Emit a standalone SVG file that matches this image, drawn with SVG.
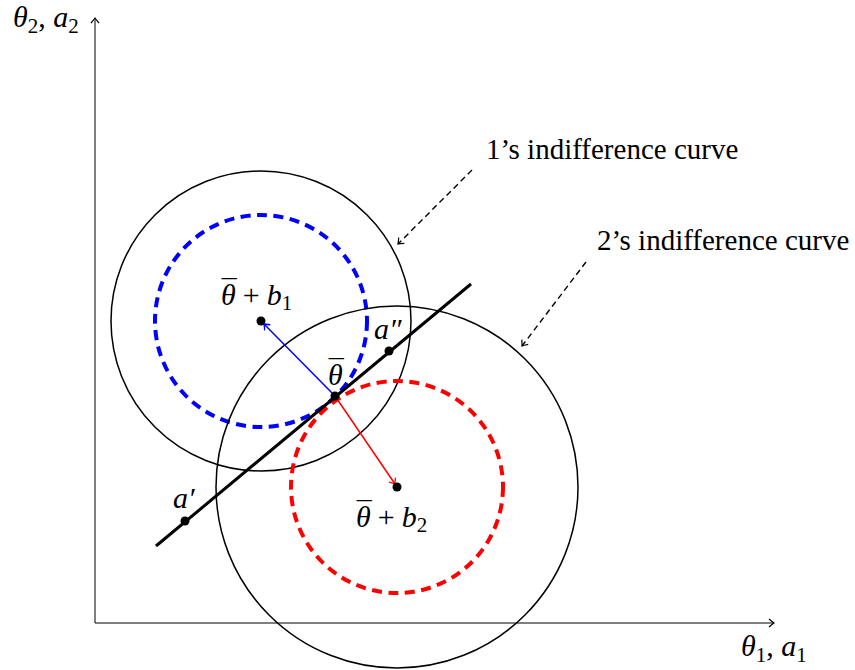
<svg xmlns="http://www.w3.org/2000/svg" width="855" height="670" viewBox="0 0 855 670">
<defs>
<marker id="toK" markerWidth="12" markerHeight="12" refX="0" refY="0" viewBox="-6 -6 12 12" orient="auto" markerUnits="userSpaceOnUse">
<path d="M-5,-4 Q-1.5,-1 0,0 Q-1.5,1 -5,4" fill="none" stroke="#000" stroke-width="1.2"/>
</marker>
<marker id="toB" markerWidth="12" markerHeight="12" refX="0" refY="0" viewBox="-6 -6 12 12" orient="auto" markerUnits="userSpaceOnUse">
<path d="M-5,-4 Q-1.5,-1 0,0 Q-1.5,1 -5,4" fill="none" stroke="#0000ff" stroke-width="1.3"/>
</marker>
<marker id="toR" markerWidth="12" markerHeight="12" refX="0" refY="0" viewBox="-6 -6 12 12" orient="auto" markerUnits="userSpaceOnUse">
<path d="M-5,-4 Q-1.5,-1 0,0 Q-1.5,1 -5,4" fill="none" stroke="#ff0000" stroke-width="1.3"/>
</marker>
</defs>
<style>
text{font-family:'Liberation Serif','DejaVu Serif',serif;fill:#000}
.m{font-style:italic;font-size:30px}
.up{font-style:normal}
.sub{font-size:21px;font-style:normal}
.circ{fill:none;stroke:#000;stroke-width:1.5}
.dash{fill:none;stroke-width:4;stroke-dasharray:10 6.5}
.dot{fill:#000}
</style>
<g id="axes" fill="none" stroke="#000" stroke-width="1">
<line x1="95" y1="623" x2="95" y2="18" marker-end="url(#toK)"/>
<line x1="95" y1="623" x2="774" y2="623" marker-end="url(#toK)"/>
</g>
<g id="circle1">
<circle class="circ" cx="261" cy="321" r="150"/>
<circle class="dash" cx="261" cy="321" r="106" stroke="#0000ff"/>
</g>
<g id="circle2">
<circle class="circ" cx="397" cy="487" r="181"/>
<circle class="dash" cx="397" cy="487" r="106" stroke="#ff0000"/>
</g>
<g id="line">
<line x1="156" y1="546" x2="471" y2="284" stroke="#000" stroke-width="3"/>
</g>
<g id="connectors" fill="none">
<line x1="335" y1="396" x2="264" y2="324" stroke="#0000ff" stroke-width="1.5" marker-end="url(#toB)"/>
<line x1="335" y1="396" x2="395" y2="484" stroke="#ff0000" stroke-width="1.5" marker-end="url(#toR)"/>
<line x1="472" y1="170" x2="398" y2="244" stroke="#000" stroke-width="1.4" stroke-dasharray="6 4" marker-end="url(#toK)"/>
<line x1="586" y1="262" x2="522" y2="346" stroke="#000" stroke-width="1.4" stroke-dasharray="6 4" marker-end="url(#toK)"/>
</g>
<g id="center1">
<circle class="dot" cx="261" cy="321" r="4.5"/>
<text class="m" x="221" y="305">θ<tspan class="up" dx="-14" dy="-5">¯</tspan><tspan class="up" dx="6" dy="5">+</tspan><tspan dx="7">b</tspan><tspan class="sub" dy="5">1</tspan></text>
</g>
<g id="center2">
<circle class="dot" cx="397" cy="487" r="4.5"/>
<text class="m" x="356" y="527">θ<tspan class="up" dx="-14" dy="-5">¯</tspan><tspan class="up" dx="6" dy="5">+</tspan><tspan dx="7">b</tspan><tspan class="sub" dy="5">2</tspan></text>
</g>
<g id="theta-bar">
<circle class="dot" cx="335" cy="396" r="4.5"/>
<text class="m" x="328" y="385">θ<tspan class="up" dx="-14" dy="-5">¯</tspan></text>
</g>
<g id="a-double-prime">
<circle class="dot" cx="389" cy="351" r="4.5"/>
<text class="m" x="374" y="339">a″</text>
</g>
<g id="a-prime">
<circle class="dot" cx="185" cy="521" r="4.5"/>
<text class="m" x="173" y="508">a′</text>
</g>
<g id="labels">
<text class="m" x="13" y="27">θ<tspan class="sub" dy="6">2</tspan><tspan class="up" dy="-6">, </tspan>a<tspan class="sub" dy="6">2</tspan></text>
<text class="m" x="741" y="656">θ<tspan class="sub" dy="6">1</tspan><tspan class="up" dy="-6">, </tspan>a<tspan class="sub" dy="6">1</tspan></text>
<text x="486" y="159" font-size="29">1’s indifference curve</text>
<text x="597" y="250" font-size="29">2’s indifference curve</text>
</g>
</svg>
